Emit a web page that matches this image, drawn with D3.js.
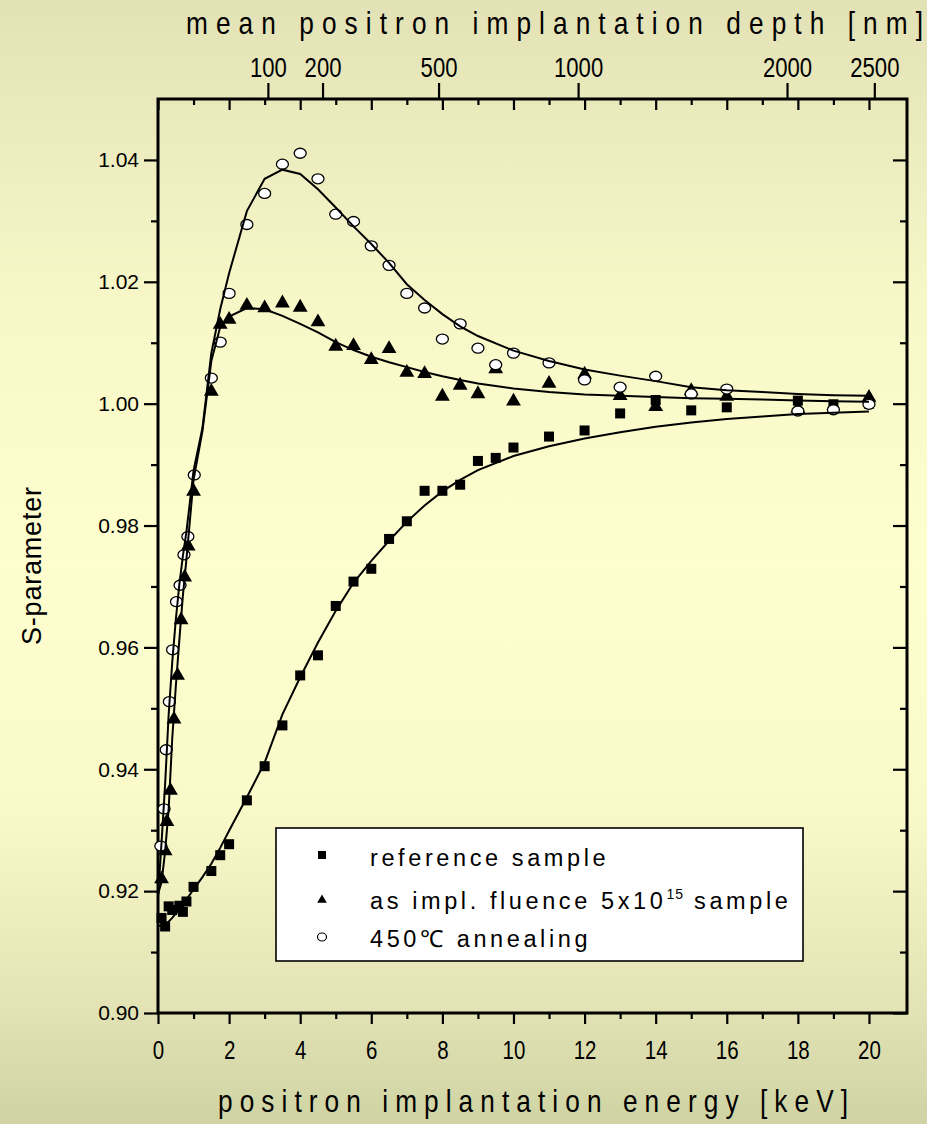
<!DOCTYPE html>
<html>
<head>
<meta charset="utf-8">
<script src="https://cdn.jsdelivr.net/npm/d3@7"></script>
<style>
  html, body { margin: 0; padding: 0; background: #f4f4c4; }
  svg { display: block; }
</style>
</head>
<body>
<div id="chart"></div>
<script>
// --- measured points (energy in keV, S-parameter) ---
const energyRef = [0.1, 0.2, 0.3, 0.4, 0.6, 0.7, 0.8, 1.0, 1.5, 1.75, 2, 2.5, 3, 3.5, 4, 4.5, 5, 5.5, 6, 6.5,
  7, 7.5, 8, 8.5, 9, 9.5, 10, 11, 12, 13, 14, 15, 16, 18, 19, 20];
const sRef = [0.9156, 0.9142, 0.9175, 0.9169, 0.9176, 0.9166, 0.9183, 0.9207, 0.9233, 0.9259, 0.9277, 0.9349,
  0.9405, 0.9472, 0.9554, 0.9587, 0.9668, 0.9708, 0.9729, 0.9778, 0.9807, 0.9857, 0.9857, 0.9867, 0.9906,
  0.9911, 0.9928, 0.9946, 0.9956, 0.9984, 1.0006, 0.9989, 0.9994, 1.0005, 0.9999, 1.0000];

const energyImpl = [0.1, 0.2, 0.25, 0.35, 0.45, 0.55, 0.65, 0.75, 0.85, 1.0, 1.5, 1.75, 2, 2.5, 3, 3.5, 4, 4.5,
  5, 5.5, 6, 6.5, 7, 7.5, 8, 8.5, 9, 9.5, 10, 11, 12, 13, 14, 15, 16, 18, 20];
const sImpl = [0.9220, 0.9266, 0.9314, 0.9365, 0.9482, 0.9554, 0.9645, 0.9715, 0.9766, 0.9856, 1.0020, 1.0130,
  1.0138, 1.0161, 1.0157, 1.0165, 1.0158, 1.0134, 1.0094, 1.0095, 1.0072, 1.0090, 1.0051, 1.0049, 1.0012,
  1.0030, 1.0016, 1.0057, 1.0004, 1.0033, 1.0048, 1.0013, 0.9995, 1.0021, 1.0012, 0.9992, 1.0010];

const energyAnn = [0.08, 0.17, 0.23, 0.32, 0.41, 0.52, 0.62, 0.73, 0.84, 1.02, 1.5, 1.75, 2, 2.5, 3, 3.5, 4, 4.5,
  5, 5.5, 6, 6.5, 7, 7.5, 8, 8.5, 9, 9.5, 10, 11, 12, 13, 14, 15, 16, 18, 19, 20];
const sAnn = [0.9274, 0.9335, 0.9432, 0.9511, 0.9596, 0.9675, 0.9702, 0.9752, 0.9782, 0.9883, 1.0042, 1.0101,
  1.0181, 1.0294, 1.0345, 1.0393, 1.0411, 1.0369, 1.0311, 1.0299, 1.0259, 1.0227, 1.0181, 1.0157, 1.0106,
  1.0131, 1.0091, 1.0064, 1.0083, 1.0067, 1.0039, 1.0027, 1.0045, 1.0016, 1.0024, 0.9988, 0.9990, 0.9999];

// --- fitted curves ---
const fitEnergy = [0, 0.1, 0.2, 0.3, 0.4, 0.5, 0.6, 0.7, 0.8, 1.0, 1.25, 1.5, 1.75, 2, 2.5, 3, 3.5, 4, 4.5, 5,
  5.5, 6, 6.5, 7, 7.5, 8, 8.5, 9, 10, 11, 12, 13, 14, 15, 16, 17, 18, 19, 20];
const fitRef = [0.9143, 0.9143, 0.9145, 0.9150, 0.9156, 0.9163, 0.9170, 0.9178, 0.9186, 0.9203, 0.9223, 0.9245,
  0.9271, 0.9299, 0.9354, 0.9411, 0.9490, 0.9551, 0.9608, 0.9660, 0.9706, 0.9742, 0.9775, 0.9806, 0.9833,
  0.9856, 0.9875, 0.9891, 0.9914, 0.9930, 0.9943, 0.9953, 0.9962, 0.9969, 0.9975, 0.9979, 0.9983, 0.9985, 0.9987];
const fitImpl = [0.9195, 0.9215, 0.9265, 0.9335, 0.9450, 0.9535, 0.9612, 0.9685, 0.9745, 0.9875, 0.9955, 1.0070,
  1.0126, 1.0143, 1.0157, 1.0155, 1.0144, 1.0131, 1.0117, 1.0101, 1.0088, 1.0077, 1.0068, 1.0060, 1.0052,
  1.0045, 1.0039, 1.0033, 1.0025, 1.0019, 1.0015, 1.0013, 1.0011, 1.0009, 1.0008, 1.0007, 1.0005, 1.0004, 1.0003];
const fitAnn = [0.9190, 0.9280, 0.9375, 0.9490, 0.9575, 0.9645, 0.9703, 0.9750, 0.9790, 0.9890, 0.9960, 1.0083,
  1.0155, 1.0214, 1.0316, 1.0369, 1.0384, 1.0377, 1.0352, 1.0322, 1.0291, 1.0262, 1.0231, 1.0196, 1.0170,
  1.0147, 1.0127, 1.0111, 1.0087, 1.0070, 1.0056, 1.0046, 1.0037, 1.0027, 1.0022, 1.0019, 1.0016, 1.0014, 1.0013];

// --- ticks / labels ---
const energyMajor = [0, 2, 4, 6, 8, 10, 12, 14, 16, 18, 20];
const energyMinor = [1, 3, 5, 7, 9, 11, 13, 15, 17, 19];
const sMajor = [0.90, 0.92, 0.94, 0.96, 0.98, 1.00, 1.02, 1.04];
const sMinor = [0.91, 0.93, 0.95, 0.97, 0.99, 1.01, 1.03];
const depthTicks = [100, 200, 500, 1000, 2000, 2500];

const W = 927, H = 1124;
const plot = { left: 158, right: 907, top: 99, bottom: 1013 };
const font = "Liberation Sans, Arial, Helvetica, sans-serif";
const narrow = 0.82; // the original uses a condensed face for axis texts

const svg = d3.select('#chart').append('svg')
  .attr('width', W)
  .attr('height', H);

// background gradient
const grad = svg.append('defs').append('linearGradient')
  .attr('id', 'bg')
  .attr('x1', 0).attr('y1', 0).attr('x2', 0).attr('y2', 1);
[[0, '#e2e2b6'], [0.27, '#f7f7c8'], [0.5, '#fefecf'], [0.72, '#f9f9c9'], [0.9, '#e2e2b4'], [1, '#cfd3a3']]
  .forEach(([o, c]) => grad.append('stop').attr('offset', o).attr('stop-color', c));
svg.append('rect').attr('width', W).attr('height', H).attr('fill', 'url(#bg)');

const x = d3.scaleLinear().domain([0, 21.07]).range([plot.left, plot.right]);
const y = d3.scaleLinear().domain([0.90, 1.05]).range([plot.bottom, plot.top]);
// mean implantation depth grows like E^1.717, so the depth axis is a power scale
const depth = d3.scalePow().exponent(1 / 1.717).domain([0, 2699]).range([plot.left, plot.right]);

// axes
function styleAxis(g) {
  g.select('.domain').remove();
  g.selectAll('.tick line').attr('stroke', '#000').attr('stroke-width', 2.2);
  g.selectAll('.tick text').attr('fill', '#000').attr('font-family', font);
}
function addAxis(axis, tx, ty) {
  return svg.append('g').attr('transform', `translate(${tx},${ty})`).call(axis).call(styleAxis);
}

addAxis(d3.axisBottom(x).tickValues(energyMajor).tickSize(11).tickPadding(17).tickFormat(d3.format('d')), 0, plot.bottom)
  .selectAll('text').attr('font-size', 25).attr('transform', `scale(${narrow},1)`);
addAxis(d3.axisBottom(x).tickValues(energyMinor).tickSize(6).tickFormat(''), 0, plot.bottom);
addAxis(d3.axisTop(x).tickValues(energyMajor).tickSize(-11).tickFormat(''), 0, plot.top);
addAxis(d3.axisTop(x).tickValues(energyMinor).tickSize(-6).tickFormat(''), 0, plot.top);

addAxis(d3.axisLeft(y).tickValues(sMajor).tickSize(14).tickPadding(5).tickFormat(d3.format('.2f')), plot.left, 0)
  .selectAll('text').attr('font-size', 21);
addAxis(d3.axisLeft(y).tickValues(sMinor).tickSize(7).tickFormat(''), plot.left, 0);
addAxis(d3.axisRight(y).tickValues(sMajor).tickSize(-14).tickFormat(''), plot.right, 0);
addAxis(d3.axisRight(y).tickValues(sMinor).tickSize(-7).tickFormat(''), plot.right, 0);

addAxis(d3.axisTop(depth).tickValues(depthTicks).tickSize(16).tickPadding(6).tickFormat(d3.format('d')), 0, plot.top)
  .selectAll('text').attr('font-size', 27).attr('transform', `scale(${narrow},1)`);

// frame
svg.append('rect')
  .attr('x', plot.left).attr('y', plot.top)
  .attr('width', plot.right - plot.left).attr('height', plot.bottom - plot.top)
  .attr('fill', 'none').attr('stroke', '#000').attr('stroke-width', 3);

// markers
const pts = (es, ss) => es.map((e, i) => [e, ss[i]]);
const g = svg.append('g');

g.selectAll('rect.ref').data(pts(energyRef, sRef)).join('rect')
  .attr('class', 'ref')
  .attr('x', d => x(d[0]) - 5).attr('y', d => y(d[1]) - 5)
  .attr('width', 10).attr('height', 10)
  .attr('fill', '#000');

const tri = d3.symbol().type(d3.symbolTriangle).size(95);
g.selectAll('path.impl').data(pts(energyImpl, sImpl)).join('path')
  .attr('class', 'impl')
  .attr('d', tri)
  .attr('transform', d => `translate(${x(d[0])},${y(d[1])})`)
  .attr('fill', '#000');

g.selectAll('ellipse.ann').data(pts(energyAnn, sAnn)).join('ellipse')
  .attr('class', 'ann')
  .attr('cx', d => x(d[0])).attr('cy', d => y(d[1]))
  .attr('rx', 6).attr('ry', 5)
  .attr('fill', '#fff').attr('stroke', '#000').attr('stroke-width', 1.3);

// fitted lines
const line = d3.line().x(d => x(d[0])).y(d => y(d[1]));
[fitRef, fitImpl, fitAnn].forEach(s => {
  g.append('path')
    .attr('d', line(pts(fitEnergy, s)))
    .attr('fill', 'none').attr('stroke', '#000').attr('stroke-width', 2);
});

// titles (condensed and spaced like the original)
function title(txt, x0, y0, len) {
  svg.append('text')
    .attr('transform', `translate(${x0},${y0}) scale(${narrow},1)`)
    .attr('font-family', font).attr('font-size', 32)
    .attr('textLength', len / narrow).attr('lengthAdjust', 'spacing')
    .text(txt);
}
title('mean positron implantation depth [nm]', 186, 34, 737);
title('positron implantation energy [keV]', 218, 1112, 630);

svg.append('text')
  .attr('transform', 'translate(41,566) rotate(-90)')
  .attr('text-anchor', 'middle')
  .attr('font-family', font).attr('font-size', 27)
  .attr('textLength', 158).attr('lengthAdjust', 'spacing')
  .text('S-parameter');

// legend
const leg = svg.append('g');
leg.append('rect')
  .attr('x', 276).attr('y', 828).attr('width', 527).attr('height', 133)
  .attr('fill', '#fff').attr('stroke', '#000').attr('stroke-width', 1.6);
leg.append('rect').attr('x', 318).attr('y', 851).attr('width', 8).attr('height', 8).attr('fill', '#000');
leg.append('path')
  .attr('d', d3.symbol().type(d3.symbolTriangle).size(40))
  .attr('transform', 'translate(322,900)').attr('fill', '#000');
leg.append('ellipse')
  .attr('cx', 322).attr('cy', 937).attr('rx', 4.5).attr('ry', 4)
  .attr('fill', '#fff').attr('stroke', '#000').attr('stroke-width', 1.2);

const legText = (yy) => leg.append('text')
  .attr('x', 370).attr('y', yy)
  .attr('font-family', font).attr('font-size', 23.5)
  .attr('letter-spacing', 3.6);
legText(866).text('reference sample');
const t2 = legText(909);
t2.append('tspan').text('as impl. fluence 5x10');
t2.append('tspan').attr('dy', -10).attr('font-size', 14).attr('letter-spacing', 1).text('15');
t2.append('tspan').attr('dy', 10).text(' sample');
legText(947).text('450\u2103 annealing');
</script>
</body>
</html>
